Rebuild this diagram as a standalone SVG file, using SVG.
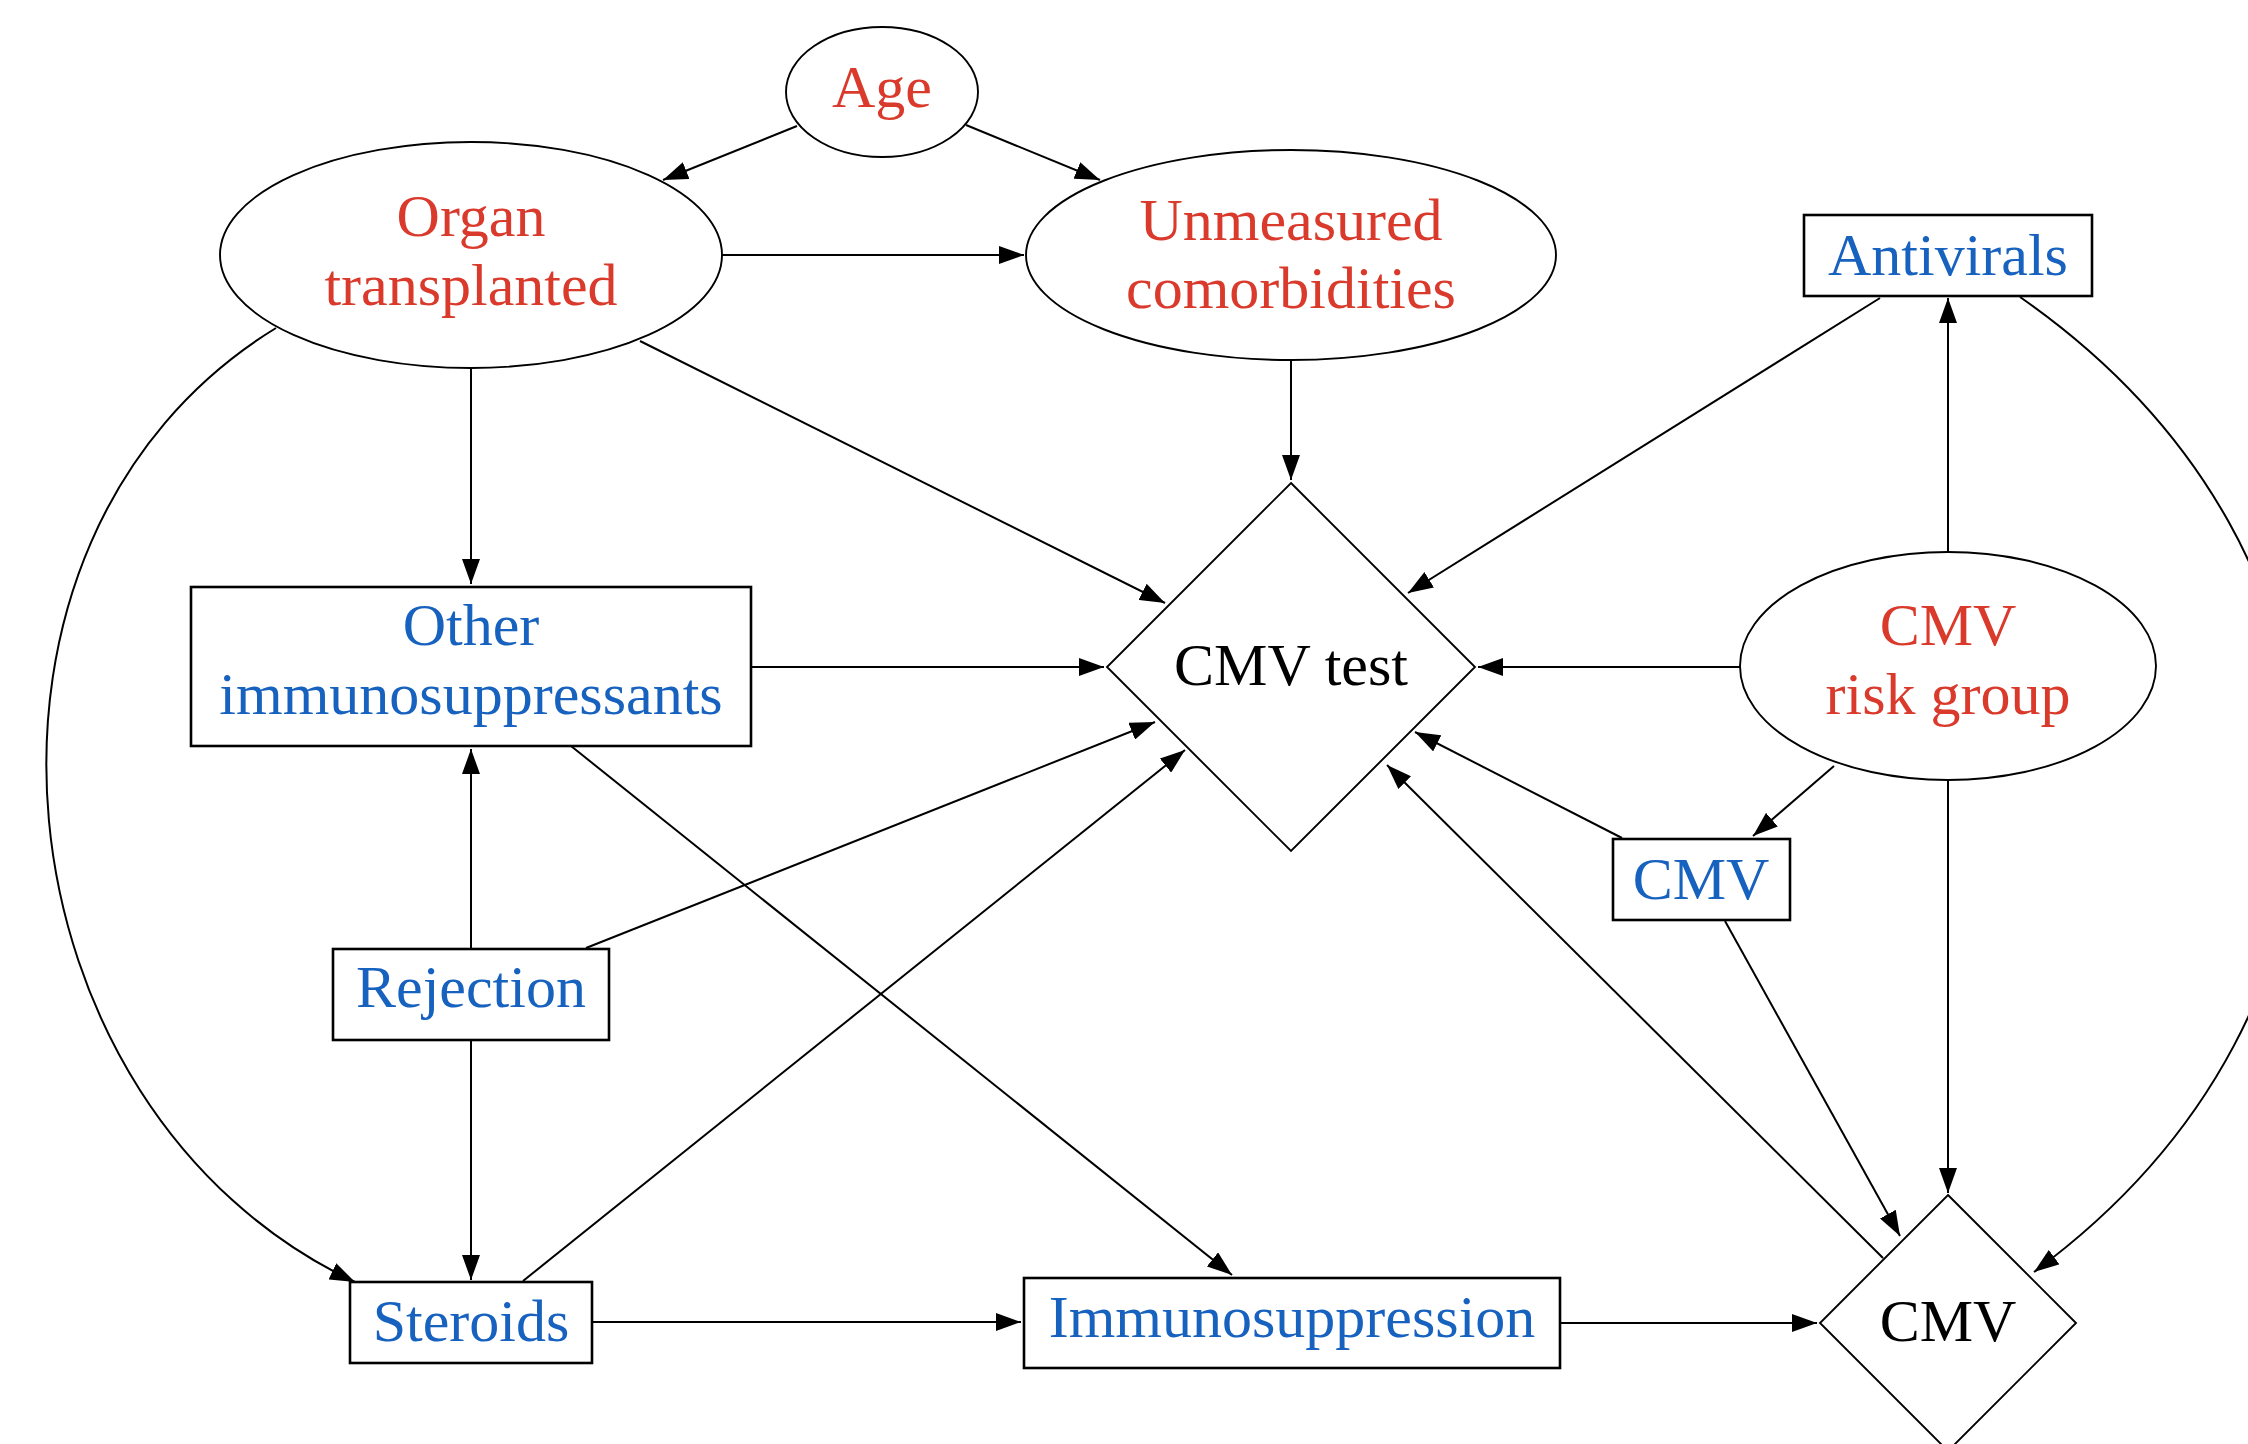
<svg xmlns="http://www.w3.org/2000/svg" width="2248" height="1444" viewBox="0 0 2248 1444">
<style>
.bg{fill:#ffffff}
.shape{fill:none;stroke:#000;stroke-width:1.9}
.box{fill:none;stroke:#000;stroke-width:2.6}
.edge{fill:none;stroke:#000;stroke-width:2;marker-end:url(#arr)}
text{font-family:"Liberation Serif","Times New Roman",serif;font-size:60px;text-anchor:middle}
.red{fill:#DA3A2C}
.blue{fill:#1761BF}
.blk{fill:#000}
</style>
<defs>
<marker id="arr" viewBox="0 0 25 18" refX="25" refY="9" markerWidth="25" markerHeight="18" markerUnits="userSpaceOnUse" orient="auto">
<path d="M0,0 L25,9 L0,18 z" fill="#000"/>
</marker>
</defs>
<rect class="bg" x="0" y="0" width="2248" height="1444"/>
<g id="connectors">
<path class="edge" d="M797 126 L663 180"/>
<path class="edge" d="M966 125 L1100 180"/>
<path class="edge" d="M722 255 L1024 255"/>
<path class="edge" d="M471 368 L471 584"/>
<path class="edge" d="M640 341 L1165 603"/>
<path class="edge" d="M276 328 C-70 540 -10 1110 355 1282"/>
<path class="edge" d="M751 667 L1104 667"/>
<path class="edge" d="M571 746 L1232 1275"/>
<path class="edge" d="M471 949 L471 749"/>
<path class="edge" d="M586 948 L1155 722"/>
<path class="edge" d="M523 1281 L1185 750"/>
<path class="edge" d="M592 1322 L1021 1322"/>
<path class="edge" d="M471 1040 L471 1280"/>
<path class="edge" d="M1291 360 L1291 480"/>
<path class="edge" d="M1880 298 L1408 593"/>
<path class="edge" d="M1948 552 L1948 298"/>
<path class="edge" d="M1740 667 L1478 667"/>
<path class="edge" d="M2020 297 C2390 555 2390 1010 2034 1272"/>
<path class="edge" d="M1834 766 L1753 836"/>
<path class="edge" d="M1622 838 L1415 732"/>
<path class="edge" d="M1725 921 L1900 1236"/>
<path class="edge" d="M1883 1258 L1387 765"/>
<path class="edge" d="M1948 780 L1948 1193"/>
<path class="edge" d="M1560 1323 L1817 1323"/>
</g>
<g id="age">
<ellipse class="shape" cx="882" cy="92" rx="96" ry="65"/>
<text class="red" x="882" y="107">Age</text>
</g>
<g id="organ">
<ellipse class="shape" cx="471" cy="255" rx="251" ry="113"/>
<text class="red" x="471" y="236">Organ</text>
<text class="red" x="471" y="305">transplanted</text>
</g>
<g id="unmeasured">
<ellipse class="shape" cx="1291" cy="255" rx="265" ry="105"/>
<text class="red" x="1291" y="240">Unmeasured</text>
<text class="red" x="1291" y="308">comorbidities</text>
</g>
<g id="antivirals">
<rect class="box" x="1804" y="215" width="288" height="81"/>
<text class="blue" x="1948" y="275">Antivirals</text>
</g>
<g id="cmvtest">
<polygon class="shape" points="1291,483 1475,667 1291,851 1107,667"/>
<text class="blk" x="1291" y="685">CMV test</text>
</g>
<g id="riskgroup">
<ellipse class="shape" cx="1948" cy="666" rx="208" ry="114"/>
<text class="red" x="1948" y="645">CMV</text>
<text class="red" x="1948" y="714">risk group</text>
</g>
<g id="other">
<rect class="box" x="191" y="587" width="560" height="159"/>
<text class="blue" x="471" y="645">Other</text>
<text class="blue" x="471" y="714">immunosuppressants</text>
</g>
<g id="rejection">
<rect class="box" x="333" y="949" width="276" height="91"/>
<text class="blue" x="471" y="1007">Rejection</text>
</g>
<g id="steroids">
<rect class="box" x="350" y="1282" width="242" height="81"/>
<text class="blue" x="471" y="1341">Steroids</text>
</g>
<g id="immunosuppression">
<rect class="box" x="1024" y="1278" width="536" height="90"/>
<text class="blue" x="1292" y="1337">Immunosuppression</text>
</g>
<g id="cmvbox">
<rect class="box" x="1613" y="839" width="177" height="81"/>
<text class="blue" x="1701" y="899">CMV</text>
</g>
<g id="cmvdiamond">
<polygon class="shape" points="1948,1195 2076,1323 1948,1451 1820,1323"/>
<text class="blk" x="1948" y="1341">CMV</text>
</g>
</svg>
